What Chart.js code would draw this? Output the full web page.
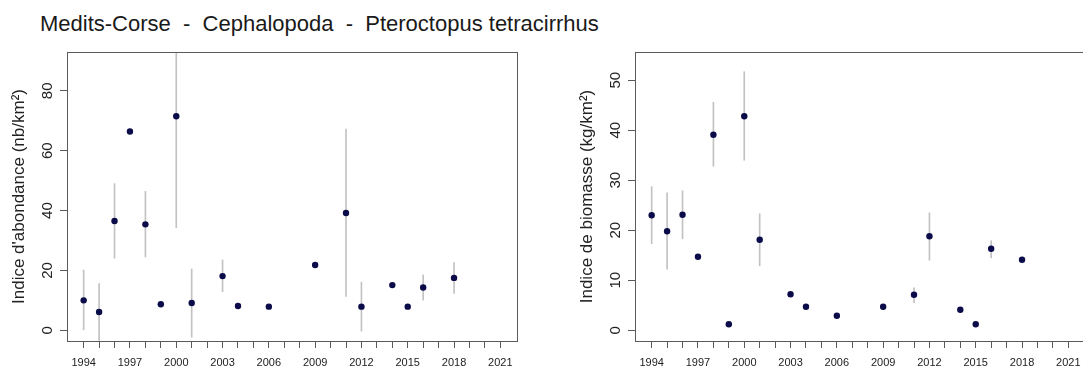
<!DOCTYPE html>
<html>
<head>
<meta charset="utf-8">
<script src="https://cdn.jsdelivr.net/npm/chart.js@4.4.0/dist/chart.umd.min.js"></script>
<style>
html,body{margin:0;padding:0;background:#fff;overflow:hidden;width:1083px;height:367px}
#title{position:absolute;left:40px;top:13px;font:22px/22px "Liberation Sans",Arial,sans-serif;color:#1a1a1a;white-space:pre}
.pane{position:absolute;top:0;width:540px;height:367px}
</style>
</head>
<body>
<div id="title">Medits-Corse  -  Cephalopoda  -  Pteroctopus tetracirrhus</div>
<div class="pane" style="left:0"><canvas id="cAb" width="540" height="367"></canvas></div>
<div class="pane" style="left:568px"><canvas id="cBio" width="540" height="367"></canvas></div>
<script>
// Campagne Medits-Corse, Pteroctopus tetracirrhus
const years = [1994,1995,1996,1997,1998,1999,2000,2001,2003,2004,2006,2009,2011,2012,2014,2015,2016,2018];

// abondance (nb/km²) + intervalle
const abond    = [10.0, 6.1, 36.5, 66.4, 35.4, 8.7, 71.5, 9.1, 18.1, 8.1, 7.9, 21.8, 39.2, 7.9, 15.1, 7.9, 14.3, 17.5];
const abondLow = [0, -3.4, 24.1, null, 24.5, null, 34.3, -2.3, 12.9, null, null, null, 11.3, -0.3, null, null, 10.1, 12.3];
const abondHi  = [20.1, 15.6, 49.0, null, 46.4, null, 108.7, 20.5, 23.5, null, null, null, 67.2, 16.1, null, null, 18.5, 22.6];

// biomasse (kg/km²) + intervalle
const biom    = [23.0, 19.8, 23.1, 14.7, 39.1, 1.2, 42.8, 18.1, 7.2, 4.7, 2.9, 4.7, 7.1, 18.8, 4.1, 1.2, 16.3, 14.1];
const biomLow = [17.3, 12.2, 18.3, null, 32.8, null, 34.0, 12.9, null, null, null, null, 5.5, 14.0, null, null, 14.5, null];
const biomHi  = [28.7, 27.5, 27.9, null, 45.6, null, 51.7, 23.3, null, null, null, null, 8.5, 23.5, null, null, 17.9, null];

// axes
const axisYears = [];
for (let y = 1994; y <= 2021; y++) axisYears.push(y);
const abTicks = [0, 20, 40, 60, 80];
const bioTicks = [0, 10, 20, 30, 40, 50];

Chart.defaults.font.family = "'Liberation Sans', Arial, sans-serif";
Chart.defaults.color = '#222';

const boxPlugin = {
  id: 'box',
  afterDraw(chart) {
    const a = chart.chartArea, ctx = chart.ctx;
    ctx.save();
    ctx.strokeStyle = '#5a5a5a'; ctx.lineWidth = 1;
    ctx.strokeRect(Math.round(a.left) + .5, Math.round(a.top) + .5, Math.round(a.right - a.left), Math.round(a.bottom - a.top));
    ctx.restore();
  }
};

function makeChart(id, vals, lo, hi, ymin, ymax, yTicks, yTitle) {
  const pts = years.map((y, i) => ({x: y, y: vals[i]}));
  const bars = [];
  years.forEach((y, i) => { if (lo[i] != null) bars.push({x: y, y: [lo[i], hi[i]]}) });
  const axisLine = {drawOnChartArea: false, drawTicks: true, tickLength: 7, color: '#5a5a5a', lineWidth: 1};
  return new Chart(document.getElementById(id), {
    type: 'scatter',
    data: {datasets: [
      {type: 'bar', data: bars, backgroundColor: '#c2c2c2', borderWidth: 0, barThickness: 1, order: 2},
      {type: 'scatter', data: pts, backgroundColor: '#0b0b4a', borderWidth: 0, pointRadius: 3.2, order: 1}
    ]},
    options: {
      responsive: false, animation: false, events: [],
      layout: {padding: {top: 52, right: 23, bottom: 0, left: 0}},
      plugins: {legend: {display: false}, tooltip: {enabled: false}},
      scales: {
        x: {type: 'linear', min: 1992.92, max: 2022.08, offset: false,
          afterBuildTicks: s => { s.ticks = axisYears.map(v => ({value: v})) },
          afterFit: s => { s.height = 26 },
          grid: {...axisLine, offset: false},
          border: {display: true, color: '#5a5a5a', width: 1},
          ticks: {autoSkip: false, minRotation: 0, maxRotation: 0, padding: 8, font: {size: 11}, color: '#222',
            callback: v => (v - 1994) % 3 === 0 ? String(v) : ''}
        },
        y: {type: 'linear', min: ymin, max: ymax,
          afterBuildTicks: s => { s.ticks = yTicks.map(v => ({value: v})) },
          afterFit: s => { s.width = 67 },
          grid: axisLine,
          border: {display: true, color: '#5a5a5a', width: 1},
          ticks: {minRotation: 90, maxRotation: 90, crossAlign: 'center', padding: 4, font: {size: 15}, color: '#222'},
          title: {display: true, text: yTitle, font: {size: 17}, color: '#222', padding: {top: 9, bottom: 0}}
        }
      }
    },
    plugins: [boxPlugin]
  });
}

makeChart('cAb', abond, abondLow, abondHi, -3.58, 92.98, abTicks, "Indice d'abondance (nb/km²)");
makeChart('cBio', biom, biomLow, biomHi, -2.14, 55.64, bioTicks, 'Indice de biomasse (kg/km²)');
</script>
</body>
</html>
